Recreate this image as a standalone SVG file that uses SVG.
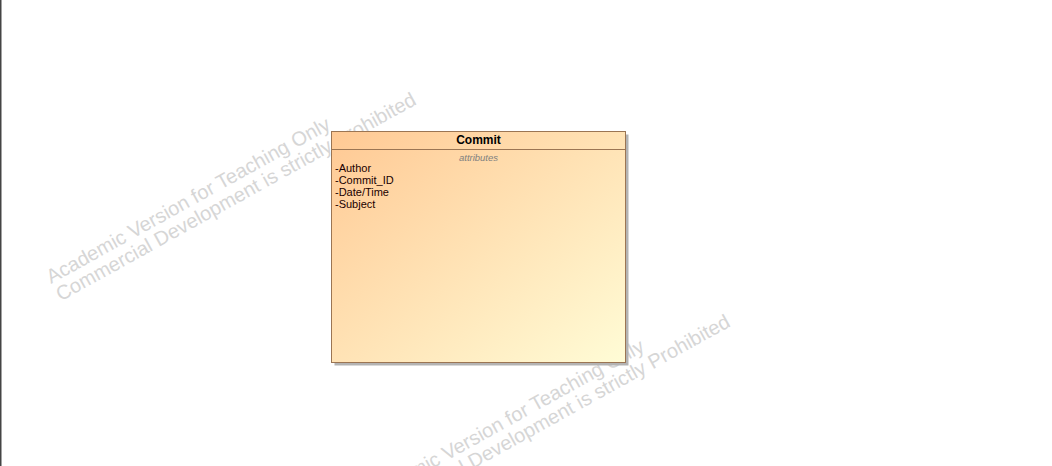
<svg xmlns="http://www.w3.org/2000/svg" width="1052" height="466" viewBox="0 0 1052 466">
  <defs>
    <linearGradient id="classFill" x1="0" y1="0" x2="1" y2="1">
      <stop offset="0" stop-color="#FFC994"/>
      <stop offset="1" stop-color="#FFFCD6"/>
    </linearGradient>
  </defs>
  <style>
    .wm { font-family: "Liberation Sans", Arial, sans-serif; font-size: 20px; fill: #d6d6d6; }
    .title { font-family: "Liberation Sans", Arial, sans-serif; font-size: 12px; font-weight: bold; fill: #000; }
    .comp { font-family: "Liberation Sans", Arial, sans-serif; font-size: 9.5px; font-style: italic; fill: #808080; }
    .attr { font-family: "Liberation Sans", Arial, sans-serif; font-size: 11px; fill: #1a0000; }
    .box { fill: url(#classFill); stroke: #9b7553; stroke-width: 1; }
    .shadow { fill: #b3b3b3; }
    .sep { stroke: #9b7553; stroke-width: 1; }
  </style>
  <rect x="0" y="0" width="1052" height="466" fill="#ffffff"/>
  <line x1="0.75" y1="0" x2="0.75" y2="466" stroke="#444444" stroke-width="1.5"/>

  <g id="watermark1" transform="translate(51,284) rotate(-29)">
    <text class="wm" x="0" y="0">Academic Version for Teaching Only</text>
    <text class="wm" x="0" y="20">Commercial Development is strictly Prohibited</text>
  </g>
  <g id="watermark2" transform="translate(365,506) rotate(-29)">
    <text class="wm" x="0" y="0">Academic Version for Teaching Only</text>
    <text class="wm" x="0" y="20">Commercial Development is strictly Prohibited</text>
  </g>

  <g id="connectors"></g>

  <g id="commit">
    <rect class="shadow" x="334.5" y="134.5" width="294" height="231"/>
    <rect class="box" x="331.5" y="131.5" width="294" height="231"/>
    <line class="sep" x1="331.5" y1="149.5" x2="625.5" y2="149.5"/>
    <text class="title" x="478.5" y="144.3" text-anchor="middle">Commit</text>
    <text class="comp" x="478.5" y="160.7" text-anchor="middle">attributes</text>
    <text class="attr" x="335" y="171.5">-Author</text>
    <text class="attr" x="335" y="183.5">-Commit_ID</text>
    <text class="attr" x="335" y="195.5">-Date/Time</text>
    <text class="attr" x="335" y="207.5">-Subject</text>
  </g>
</svg>
